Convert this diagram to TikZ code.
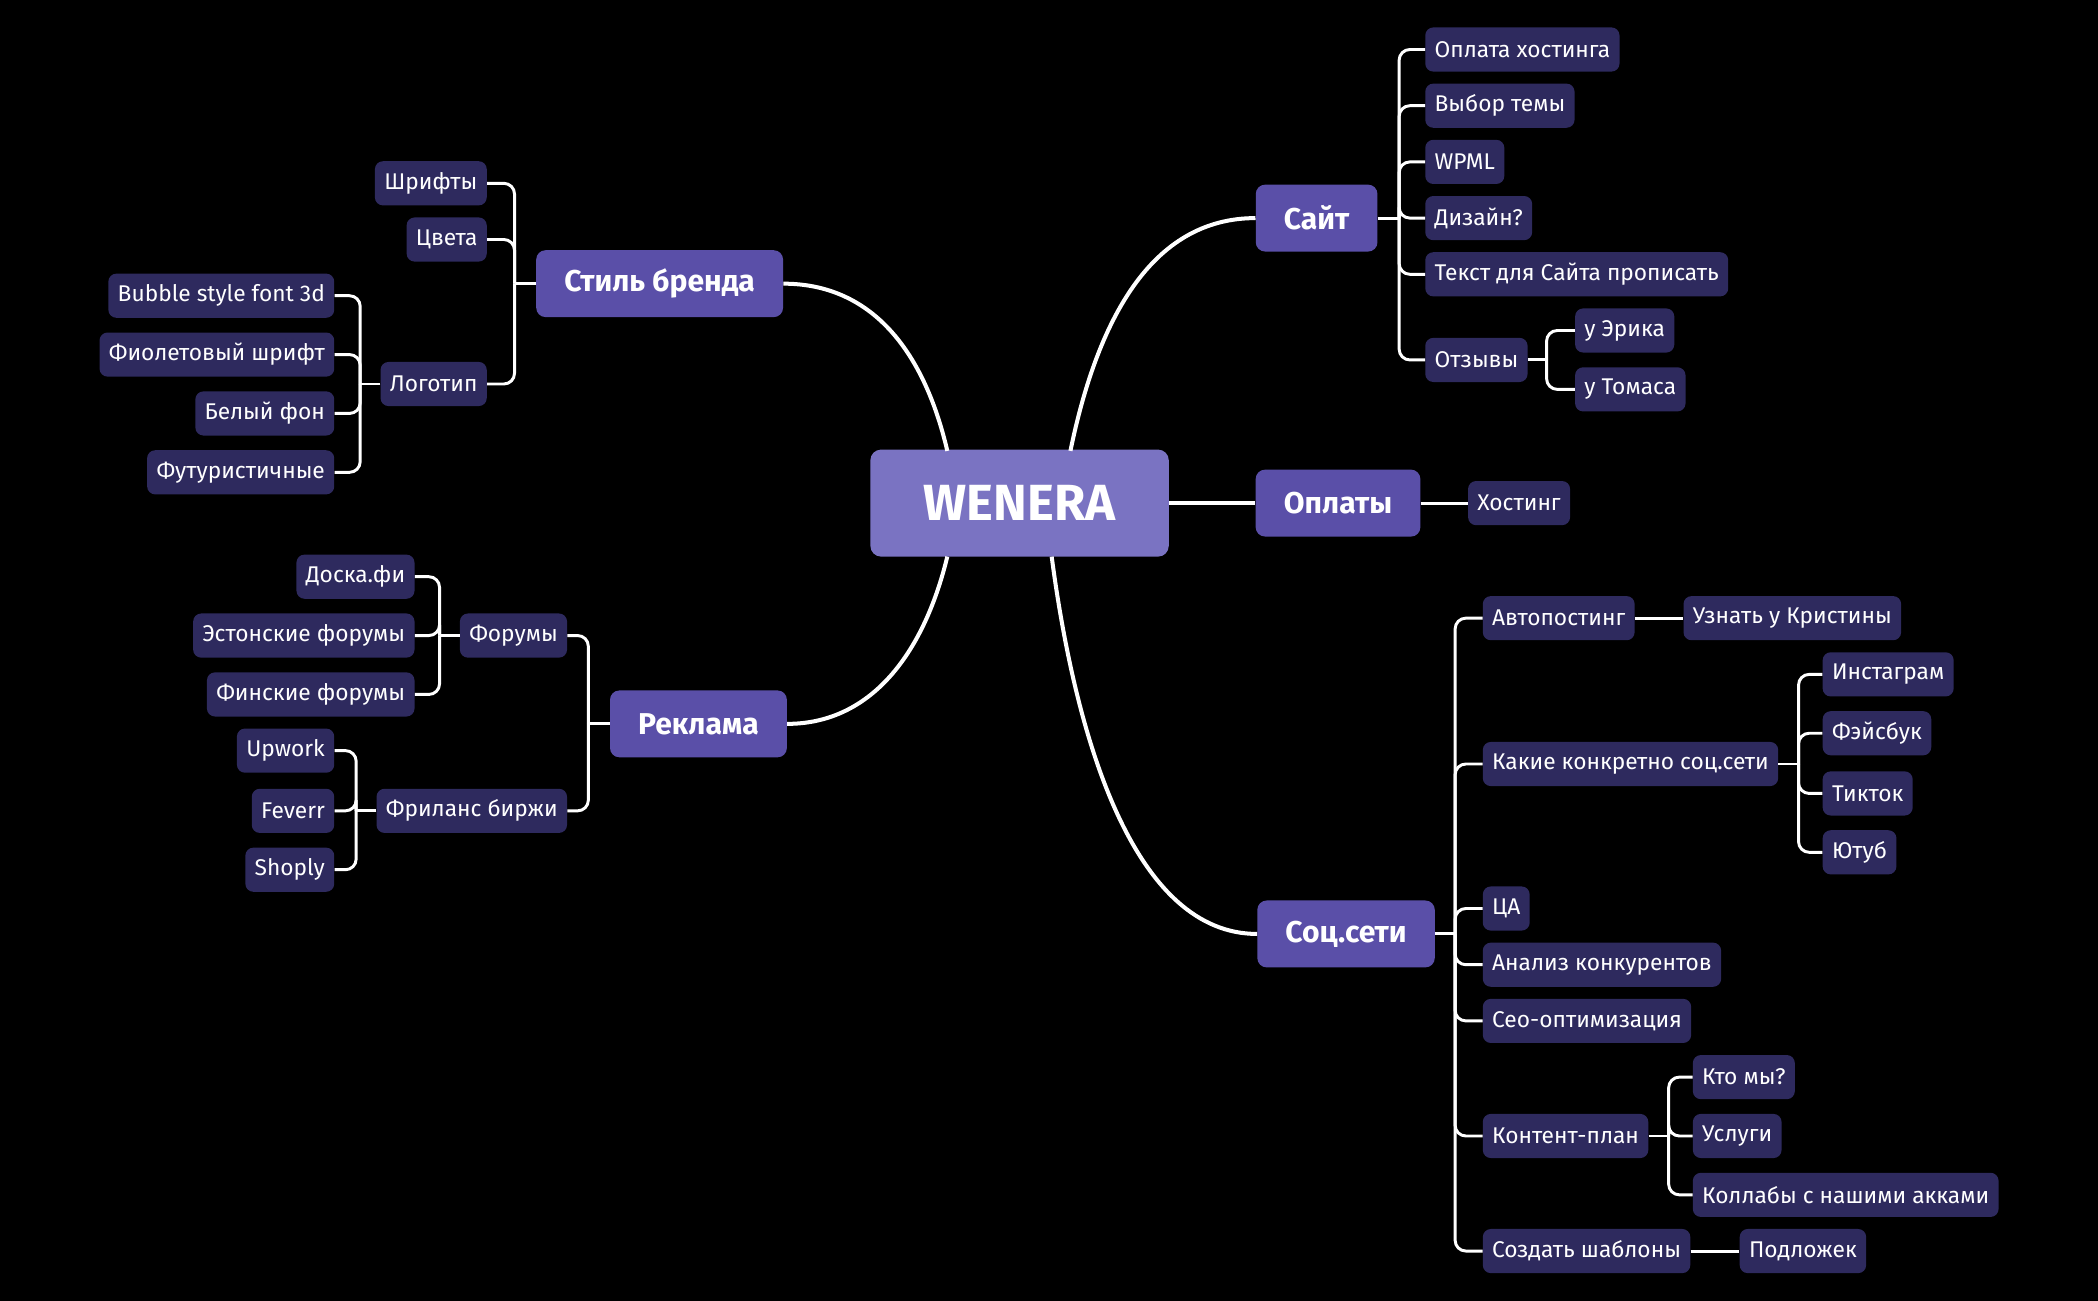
\documentclass[tikz,border=0pt]{standalone}
\usepackage{fontspec}
\setmainfont{Fira Sans}
\usetikzlibrary{calc}
\definecolor{bgc}{HTML}{000000}
\definecolor{leafc}{HTML}{2E2A5E}
\definecolor{catc}{HTML}{5A4FA8}
\definecolor{cenc}{HTML}{7A73C2}
\begin{document}
\begin{tikzpicture}[x=1pt,y=1pt,
  leaf/.style={fill=leafc,rounded corners=6pt,minimum height=33pt,inner xsep=7pt,text=white,font=\fontsize{17}{19}\selectfont},
  cat/.style={fill=catc,rounded corners=7pt,minimum height=50pt,inner xsep=21pt,text=white,font=\fontsize{22.5}{24}\selectfont\bfseries},
  cen/.style={fill=cenc,rounded corners=8pt,minimum height=80pt,minimum width=223pt,text=white,font=\fontsize{38}{40}\selectfont\bfseries},
  conn/.style={draw=white,line width=2.2pt,rounded corners=8pt},
  curv/.style={draw=white,line width=3pt}]
\fill[bgc] (0,0) rectangle (1568,-972);
\useasboundingbox (0,0) rectangle (1568,-972);
\node[cen] (c) at (762,-376) {WENERA};
\node[cat] (site) at (984,-163) {Сайт};
\node[cat] (pay) at (1000,-376) {Оплаты};
\node[cat] (soc) at (1006,-698) {Соц.сети};
\node[cat] (brand) at (493,-212) {Стиль бренда};
\node[cat] (ads) at (522,-541) {Реклама};
\coordinate (cTL) at (708,-337);
\coordinate (cTR) at (800,-337);
\coordinate (cBL) at (708,-416);
\coordinate (cBR) at (786,-416);
\draw[curv] (cTR) .. controls (820,-240) and (860,-163) .. (site.west);
\draw[curv] (c.east) -- (pay.west);
\draw[curv] (cBR) .. controls (805,-560) and (850,-698) .. (soc.west);
\draw[curv] (cTL) .. controls (690,-260) and (650,-212) .. (brand.east);
\draw[curv] (cBL) .. controls (690,-490) and (650,-541) .. (ads.east);
\node[leaf,anchor=west] (s1) at (1065,-37) {Оплата хостинга};
\node[leaf,anchor=west] (s2) at (1065,-79) {Выбор темы};
\node[leaf,anchor=west] (s3) at (1065,-121) {WPML};
\node[leaf,anchor=west] (s4) at (1065,-163) {Дизайн?};
\node[leaf,anchor=west] (s5) at (1065,-205) {Текст для Сайта прописать};
\node[leaf,anchor=west] (s6) at (1065,-269) {Отзывы};
\node[leaf,anchor=west] (s61) at (1177,-247) {у Эрика};
\node[leaf,anchor=west] (s62) at (1177,-291) {у Томаса};
\draw[conn] (site.east) -- ++(16,0);
\foreach \n in {s1,s2,s3,s4,s5,s6} \draw[conn] ($(site.east)+(16,0)$) |- (\n.west);
\draw[conn] (s6.east) -- ++(14,0);
\foreach \n in {s61,s62} \draw[conn] ($(s6.east)+(14,0)$) |- (\n.west);
\node[leaf,anchor=west] (p1) at (1097,-376) {Хостинг};
\draw[conn] (pay.east) -- (p1.west);
\node[leaf,anchor=west] (o1) at (1108,-462) {Автопостинг};
\node[leaf,anchor=west] (o2) at (1108,-571) {Какие конкретно соц.сети};
\node[leaf,anchor=west] (o3) at (1108,-679) {ЦА};
\node[leaf,anchor=west] (o4) at (1108,-721) {Анализ конкурентов};
\node[leaf,anchor=west] (o5) at (1108,-763) {Сео-оптимизация};
\node[leaf,anchor=west] (o6) at (1108,-849) {Контент-план};
\node[leaf,anchor=west] (o7) at (1108,-935) {Создать шаблоны};
\draw[conn] (soc.east) -- ++(15,0);
\foreach \n in {o1,o2,o3,o4,o5,o6,o7} \draw[conn] ($(soc.east)+(15,0)$) |- (\n.west);
\node[leaf,anchor=west] (o11) at (1258,-462) {Узнать у Кристины};
\draw[conn] (o1.east) -- (o11.west);
\node[leaf,anchor=west] (o21) at (1362,-504) {Инстаграм};
\node[leaf,anchor=west] (o22) at (1362,-548) {Фэйсбук};
\node[leaf,anchor=west] (o23) at (1362,-593) {Тикток};
\node[leaf,anchor=west] (o24) at (1362,-637) {Ютуб};
\draw[conn] (o2.east) -- ++(15,0);
\foreach \n in {o21,o22,o23,o24} \draw[conn] ($(o2.east)+(15,0)$) |- (\n.west);
\node[leaf,anchor=west] (o61) at (1265,-805) {Кто мы?};
\node[leaf,anchor=west] (o62) at (1265,-849) {Услуги};
\node[leaf,anchor=west] (o63) at (1265,-893) {Коллабы с нашими акками};
\draw[conn] (o6.east) -- ++(15,0);
\foreach \n in {o61,o62,o63} \draw[conn] ($(o6.east)+(15,0)$) |- (\n.west);
\node[leaf,anchor=west] (o71) at (1300,-935) {Подложек};
\draw[conn] (o7.east) -- (o71.west);
\node[leaf,anchor=east] (b1) at (364,-137) {Шрифты};
\node[leaf,anchor=east] (b2) at (364,-179) {Цвета};
\node[leaf,anchor=east] (b3) at (364,-287) {Логотип};
\draw[conn] (brand.west) -- ++(-16,0);
\foreach \n in {b1,b2,b3} \draw[conn] ($(brand.west)+(-16,0)$) |- (\n.east);
\node[leaf,anchor=east] (b31) at (250,-221) {Bubble style font 3d};
\node[leaf,anchor=east] (b32) at (250,-265) {Фиолетовый шрифт};
\node[leaf,anchor=east] (b33) at (250,-309) {Белый фон};
\node[leaf,anchor=east] (b34) at (250,-353) {Футуристичные};
\draw[conn] (b3.west) -- ++(-15,0);
\foreach \n in {b31,b32,b33,b34} \draw[conn] ($(b3.west)+(-15,0)$) |- (\n.east);
\node[leaf,anchor=east] (a1) at (424,-475) {Форумы};
\node[leaf,anchor=east] (a2) at (424,-606) {Фриланс биржи};
\draw[conn] (ads.west) -- ++(-16,0);
\foreach \n in {a1,a2} \draw[conn] ($(ads.west)+(-16,0)$) |- (\n.east);
\node[leaf,anchor=east] (a11) at (310,-431) {Доска.фи};
\node[leaf,anchor=east] (a12) at (310,-475) {Эстонские форумы};
\node[leaf,anchor=east] (a13) at (310,-519) {Финские форумы};
\draw[conn] (a1.west) -- ++(-15,0);
\foreach \n in {a11,a12,a13} \draw[conn] ($(a1.west)+(-15,0)$) |- (\n.east);
\node[leaf,anchor=east] (a21) at (250,-561) {Upwork};
\node[leaf,anchor=east] (a22) at (250,-606) {Feverr};
\node[leaf,anchor=east] (a23) at (250,-650) {Shoply};
\draw[conn] (a2.west) -- ++(-15,0);
\foreach \n in {a21,a22,a23} \draw[conn] ($(a2.west)+(-15,0)$) |- (\n.east);
\end{tikzpicture}
\end{document}
